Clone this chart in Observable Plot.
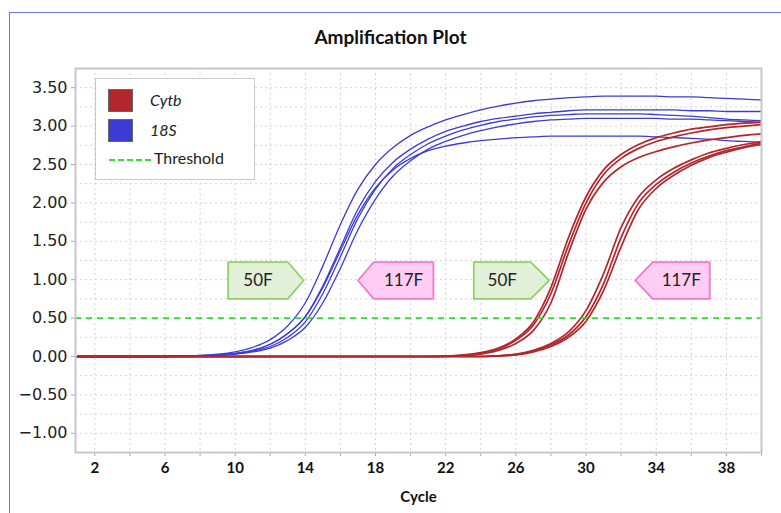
<!DOCTYPE html>
<html><head><meta charset="utf-8">
<script src="https://cdn.jsdelivr.net/npm/d3@7"></script>
<script src="https://cdn.jsdelivr.net/npm/@observablehq/plot@0.6"></script>
<style>
body{margin:0;background:#fff;}
#wrap{position:relative;width:781px;height:513px;overflow:hidden;font-family:Lato,"Open Sans",sans-serif;background:#fff;}
#border{position:absolute;left:9px;top:12px;width:900px;height:700px;border-left:1.5px solid #7474ea;border-top:1.5px solid #7474ea;}
#title{position:absolute;top:25px;left:0;width:781px;text-align:center;font-weight:bold;font-size:19px;color:#111;}
#chart{position:absolute;left:0;top:0;}
#legend{position:absolute;left:95px;top:78px;width:158px;height:100px;border:1.5px solid #c9c9c9;background:#fff;}
.sw{position:absolute;left:12px;width:23px;height:21px;border:1px solid #666;}
.lt{position:absolute;left:54px;font-size:16px;font-style:italic;color:#222;line-height:20px;}
</style></head>
<body>
<div id="wrap">
  <div id="border"></div>
  <div id="chart"></div>
  <div id="title">Amplification Plot</div>
  <div id="legend"></div>
</div>
<script>
// ---- data ----
const cycles = [1,2,3,4,5,6,7,8,9,10,11,12,13,14,15,16,17,18,19,20,21,22,23,24,25,26,27,28,29,30,31,32,33,34,35,36,37,38,39,40];
const genes = ["Cytb", "18S"];
const geneColors = ["#b3262c", "#3b3bd8"];
const threshold = 0.5;

// 18S (blue) curves
const s18_1 = [0,0,0,0,0,0.005,0.01,0.015,0.03,0.06,0.12,0.22,0.40,0.70,1.18,1.72,2.18,2.50,2.72,2.88,2.99,3.08,3.15,3.21,3.26,3.30,3.33,3.35,3.37,3.38,3.39,3.39,3.39,3.39,3.38,3.38,3.37,3.36,3.35,3.34];
const s18_2 = [0,0,0,0,0,0,0.005,0.01,0.02,0.04,0.08,0.16,0.30,0.52,0.92,1.42,1.92,2.28,2.53,2.70,2.83,2.93,3.00,3.06,3.10,3.13,3.16,3.18,3.20,3.21,3.21,3.21,3.21,3.21,3.21,3.20,3.20,3.19,3.19,3.19];
const s18_3 = [0,0,0,0,0,0,0.005,0.01,0.02,0.035,0.07,0.13,0.25,0.45,0.82,1.30,1.80,2.18,2.45,2.63,2.77,2.87,2.95,3.01,3.06,3.09,3.12,3.14,3.15,3.16,3.16,3.16,3.16,3.15,3.14,3.13,3.11,3.09,3.08,3.07];
const s18_4 = [0,0,0,0,0,0,0,0.005,0.015,0.03,0.06,0.11,0.21,0.38,0.70,1.15,1.65,2.05,2.35,2.55,2.70,2.80,2.88,2.94,2.99,3.03,3.06,3.08,3.09,3.10,3.10,3.10,3.10,3.10,3.09,3.09,3.08,3.07,3.06,3.05];
const s18_5 = [0,0,0,0,0,0,0.005,0.01,0.02,0.04,0.08,0.16,0.30,0.52,0.90,1.38,1.85,2.20,2.43,2.58,2.68,2.74,2.78,2.81,2.83,2.85,2.86,2.87,2.87,2.87,2.87,2.87,2.87,2.86,2.85,2.84,2.83,2.81,2.80,2.79];

// Cytb (red) curves
const cytb_1 = [0,0,0,0,0,0,0,0,0,0,0,0,0,0,0,0,0,0,0,0,0,0.005,0.02,0.05,0.11,0.23,0.45,0.90,1.55,2.08,2.43,2.63,2.76,2.85,2.91,2.96,2.99,3.02,3.04,3.05];
const cytb_2 = [0,0,0,0,0,0,0,0,0,0,0,0,0,0,0,0,0,0,0,0,0,0.005,0.015,0.04,0.10,0.21,0.41,0.82,1.45,2.00,2.37,2.58,2.71,2.80,2.86,2.91,2.95,2.98,3.00,3.02];
const cytb_3 = [0,0,0,0,0,0,0,0,0,0,0,0,0,0,0,0,0,0,0,0,0,0,0.01,0.03,0.08,0.17,0.34,0.70,1.35,1.92,2.27,2.47,2.59,2.67,2.73,2.78,2.82,2.85,2.88,2.90];
const cytb_4 = [0,0,0,0,0,0,0,0,0,0,0,0,0,0,0,0,0,0,0,0,0,0,0,0,0.01,0.03,0.08,0.17,0.32,0.60,1.08,1.68,2.08,2.30,2.45,2.56,2.65,2.71,2.76,2.80];
const cytb_5 = [0,0,0,0,0,0,0,0,0,0,0,0,0,0,0,0,0,0,0,0,0,0,0,0,0.01,0.025,0.07,0.15,0.28,0.52,0.95,1.55,2.00,2.24,2.40,2.52,2.61,2.68,2.73,2.78];
const cytb_6 = [0,0,0,0,0,0,0,0,0,0,0,0,0,0,0,0,0,0,0,0,0,0,0,0,0.005,0.02,0.06,0.13,0.25,0.46,0.86,1.43,1.92,2.19,2.36,2.49,2.59,2.66,2.72,2.76];

// annotation labels (primer names) in cycle / value units
const annLabels = ["50F", "117F", "50F", "117F"];
const annFlat  = [9.6, 21.3, 23.6, 37.05];   // flat end of the tag
const annBody  = [13.0, 17.9, 26.85, 33.8];  // where the point begins
const annTip   = [13.9, 17.0, 27.9, 32.8];   // tip of the point
const annLow = 0.75, annHigh = 1.23;

const xTicks = [2,4,6,8,10,12,14,16,18,20,22,24,26,28,30,32,34,36,38,40];
const xLabelTicks = [2,6,10,14,18,22,26,30,34,38];
const yTicks = [-1,-0.5,0,0.5,1,1.5,2,2.5,3,3.5];
const yGrid = [-1.25,-1,-0.75,-0.5,-0.25,0,0.25,0.5,0.75,1,1.25,1.5,1.75,2,2.25,2.5,2.75,3,3.25,3.5,3.75];

// ---- tables ----
const blueSeries = [s18_1, s18_2, s18_3, s18_4, s18_5];
const redSeries = [cytb_1, cytb_2, cytb_3, cytb_4, cytb_5, cytb_6];
function rows(series, gene) {
  const out = [];
  series.forEach((vals, k) => vals.forEach((v, i) => out.push({cycle: cycles[i], value: v, id: gene + k, gene})));
  return out;
}
const blueRows = rows(blueSeries, "18S");
const redRows = rows(redSeries, "Cytb");

const annMid = (annLow + annHigh) / 2;
const polys = [];
annLabels.forEach((lab, k) => {
  const pts = [[annFlat[k], annHigh], [annBody[k], annHigh], [annTip[k], annMid], [annBody[k], annLow], [annFlat[k], annLow], [annFlat[k], annHigh]];
  pts.forEach(([x, y]) => polys.push({x, y, k, lab}));
});
const annText = annLabels.map((lab, k) => ({lab, x: (annFlat[k] + annBody[k]) / 2, y: annMid}));

const colorOf = Object.fromEntries(genes.map((g, i) => [g, geneColors[i]]));

const plot = Plot.plot({
  width: 781,
  height: 513,
  marginTop: 68,
  marginLeft: 75,
  marginRight: 20,
  marginBottom: 61,
  style: {background: "transparent", overflow: "visible"},
  x: {domain: [0.9, 40], label: null},
  y: {domain: [-1.25, 3.75], label: null},
  marks: [
    Plot.ruleY(yGrid, {stroke: "#d4d4d4", strokeDasharray: "2,3", strokeWidth: 1}),
    Plot.ruleX(xTicks, {stroke: "#d4d4d4", strokeDasharray: "2,3", strokeWidth: 1}),
    Plot.axisY({ticks: yTicks, tickFormat: d3.format(".2f"), tickSize: 4, tickPadding: 4, stroke: "#aaa", fill: "#222", fontSize: 16, fontFamily: "DejaVu Sans", label: null}),
    Plot.axisX({ticks: xTicks, tickFormat: d => xLabelTicks.includes(d) ? String(d) : "", tickSize: 4, tickPadding: 6, stroke: "#aaa", fill: "#111", fontSize: 15, fontWeight: "bold", fontFamily: "Lato", label: null}),
    Plot.text(["Cycle"], {frameAnchor: "bottom", dy: 49, fontSize: 15, fontWeight: "bold", fontFamily: "Lato", fill: "#111"}),
    Plot.line(blueRows, {x: "cycle", y: "value", z: "id", stroke: colorOf["18S"], strokeWidth: 1.3, curve: "monotone-x", clip: true}),
    Plot.line(redRows, {x: "cycle", y: "value", z: "id", stroke: colorOf["Cytb"], strokeWidth: 1.7, curve: "monotone-x", clip: true}),
    Plot.ruleY([threshold], {stroke: "#2fe02f", strokeDasharray: "6,5", strokeWidth: 1.8}),
    Plot.line(polys.filter(d => d.lab === "50F"), {x: "x", y: "y", z: "k", fill: "#e2efd9", stroke: "#8fd166", strokeWidth: 1.8, curve: "linear"}),
    Plot.line(polys.filter(d => d.lab === "117F"), {x: "x", y: "y", z: "k", fill: "#ffcdf3", stroke: "#f27bc9", strokeWidth: 1.8, curve: "linear"}),
    Plot.text(annText, {x: "x", y: "y", text: "lab", fontSize: 17, fontFamily: "Lato", fill: "#222"}),
    Plot.frame({stroke: "#c8c8c8", strokeWidth: 2})
  ]
});
document.getElementById("chart").appendChild(plot);

// legend
const lg = document.getElementById("legend");
genes.forEach((g, i) => {
  const sw = document.createElement("div");
  sw.className = "sw";
  sw.style.top = (10 + i * 30) + "px";
  sw.style.background = geneColors[i];
  lg.appendChild(sw);
  const t = document.createElement("div");
  t.className = "lt";
  t.style.top = (11 + i * 30) + "px";
  t.textContent = g;
  lg.appendChild(t);
});
const dash = document.createElement("div");
dash.style.cssText = "position:absolute;left:13px;top:80px;width:42px;border-top:2px dashed #35e035;";
lg.appendChild(dash);
const tt = document.createElement("div");
tt.style.cssText = "position:absolute;left:58px;top:69px;font-size:16px;color:#222;line-height:20px;";
tt.textContent = "Threshold";
lg.appendChild(tt);
</script>
</body></html>
